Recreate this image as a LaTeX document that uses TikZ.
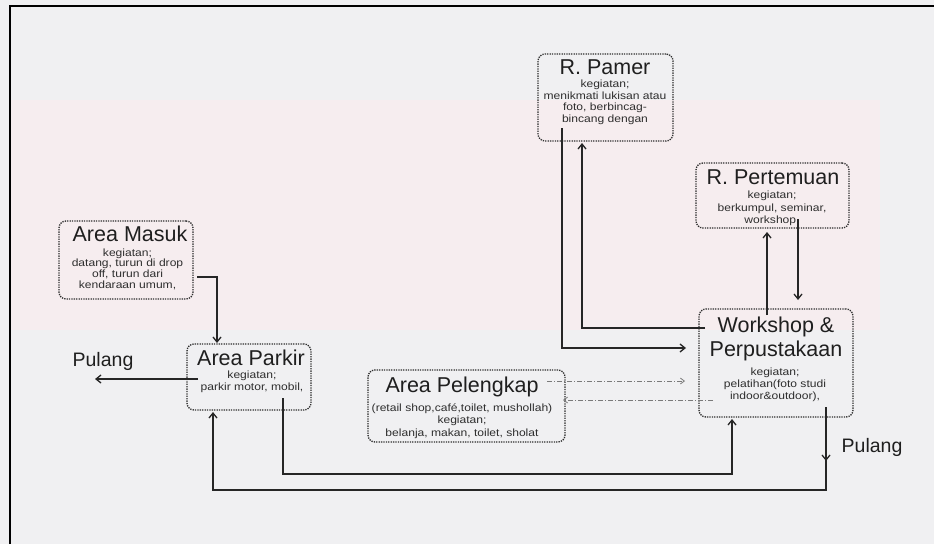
\documentclass[tikz,border=0pt]{standalone}
\usepackage{fontspec}
\setmainfont{Liberation Sans}
\newfontfamily\smallfnt[FakeStretch=1.15]{Liberation Sans}
\usetikzlibrary{arrows.meta}
\definecolor{bg}{HTML}{F0F0F2}
\definecolor{pinkband}{HTML}{F6EDEF}
\definecolor{boxline}{HTML}{2E2E2E}
\definecolor{ddcol}{HTML}{7A7A7A}
\tikzset{
 roombox/.style={draw=boxline, line width=1.3pt, dash pattern=on 1.3pt off 1.1pt, rounded corners=7pt, inner sep=0pt},
 ttl/.style={font=\fontsize{21.5}{24}\selectfont, inner sep=0pt, text=black!88, align=center},
 sml/.style={font=\smallfnt\fontsize{10.5}{11.5}\selectfont, align=center, inner sep=0pt, text=black!82},
 arr/.style={line width=1.3pt, draw=black!85, -{Straight Barb[length=5pt,width=8pt]}},
 ddarr/.style={line width=0.8pt, draw=ddcol, dash pattern=on 5pt off 2pt on 1pt off 2pt, -{Straight Barb[length=4pt,width=6pt]}},
}
\begin{document}
\begin{tikzpicture}[x=1pt,y=-1pt]
\useasboundingbox (0,0) rectangle (934,544);
\fill[bg] (0,0) rectangle (934,544);
\fill[pinkband] (10,100) rectangle (880,330);
\draw[line width=2.5pt, black] (10,544) -- (10,6) -- (934,6);

% boxes
\node[roombox, minimum width=135pt, minimum height=87pt] (pamer) at (605.5,97.5) {};
\node[roombox, minimum width=153pt, minimum height=65pt] (pertemuan) at (772.5,195.5) {};
\node[roombox, minimum width=134pt, minimum height=78pt] (masuk) at (126,260) {};
\node[roombox, minimum width=124pt, minimum height=66pt] (parkir) at (249,377) {};
\node[roombox, minimum width=197pt, minimum height=72pt] (pelengkap) at (466.5,406) {};
\node[roombox, minimum width=154pt, minimum height=108pt] (workshop) at (776,363) {};

% texts
\node[ttl] (pamerT) at (605,67.5) {R. Pamer};
\node[sml] (pamerS) at (605,102.5) {kegiatan;\\menikmati lukisan atau\\foto, berbincag-\\bincang dengan};
\node[ttl] (pertT) at (773,177) {R. Pertemuan};
\node[sml, font=\smallfnt\fontsize{10.5}{12.5}\selectfont] (pertS) at (772,208.5) {kegiatan;\\berkumpul, seminar,\\workshop,};
\node[ttl] (masukT) at (130,234) {Area Masuk};
\node[sml, font=\smallfnt\fontsize{10.5}{10.7}\selectfont] (masukS) at (127.5,269) {kegiatan;\\datang, turun di drop\\off, turun dari\\kendaraan umum,};
\node[ttl] (parkirT) at (251,358) {Area Parkir};
\node[sml] (parkirS) at (252,382) {kegiatan;\\parkir motor, mobil,};
\node[ttl] (pelT) at (462,387) {Area Pelengkap};
\node[sml, font=\smallfnt\fontsize{10.5}{12.5}\selectfont] (pelS) at (462,421) {(retail shop,café,toilet, mushollah)\\kegiatan;\\belanja, makan, toilet, sholat};
\node[ttl] (wsT) at (776,339) {Workshop \&\\Perpustakaan};
\node[sml, font=\smallfnt\fontsize{10.5}{12}\selectfont] (wsS) at (775,385) {kegiatan;\\pelatihan(foto studi\\indoor\&outdoor),};
\node[ttl, font=\fontsize{19.5}{22}\selectfont] (pulang1) at (103,361) {Pulang};
\node[ttl, font=\fontsize{19.5}{22}\selectfont] (pulang2) at (872,447) {Pulang};

% connector coordinates
\coordinate (c1) at (197,277);
\coordinate (c2) at (217,343);
\coordinate (c3) at (198,379);
\coordinate (c4) at (95,379);
\coordinate (c5) at (562,128);
\coordinate (c6) at (686,348);
\coordinate (c7) at (705,328);
\coordinate (c8) at (582,143);
\coordinate (c9) at (767,315);
\coordinate (c10) at (767,232);
\coordinate (c11) at (798,219);
\coordinate (c12) at (798,300);
\coordinate (c13) at (547,381);
\coordinate (c14) at (685,381);
\coordinate (c15) at (713,400);
\coordinate (c16) at (563,400);
\coordinate (c17) at (283,398);
\coordinate (c18) at (732,474);
\coordinate (c19) at (732,419);
\coordinate (c20) at (826,407);
\coordinate (c21) at (826,461);
\coordinate (c22) at (213,490);
\coordinate (c23) at (213,412);

\draw[arr] (c1) -| (c2);
\draw[arr] (c3) -- (c4);
\draw[arr] (c5) |- (c6);
\draw[arr] (c7) -| (c8);
\draw[arr] (c9) -- (c10);
\draw[arr] (c11) -- (c12);
\draw[ddarr] (c13) -- (c14);
\draw[ddarr] (c15) -- (c16);
\draw[arr] (c17) |- (c18) -- (c19);
\draw[arr] (c20) -- (c21);
\draw[arr] (c20) |- (c22) -- (c23);
\end{tikzpicture}
\end{document}
